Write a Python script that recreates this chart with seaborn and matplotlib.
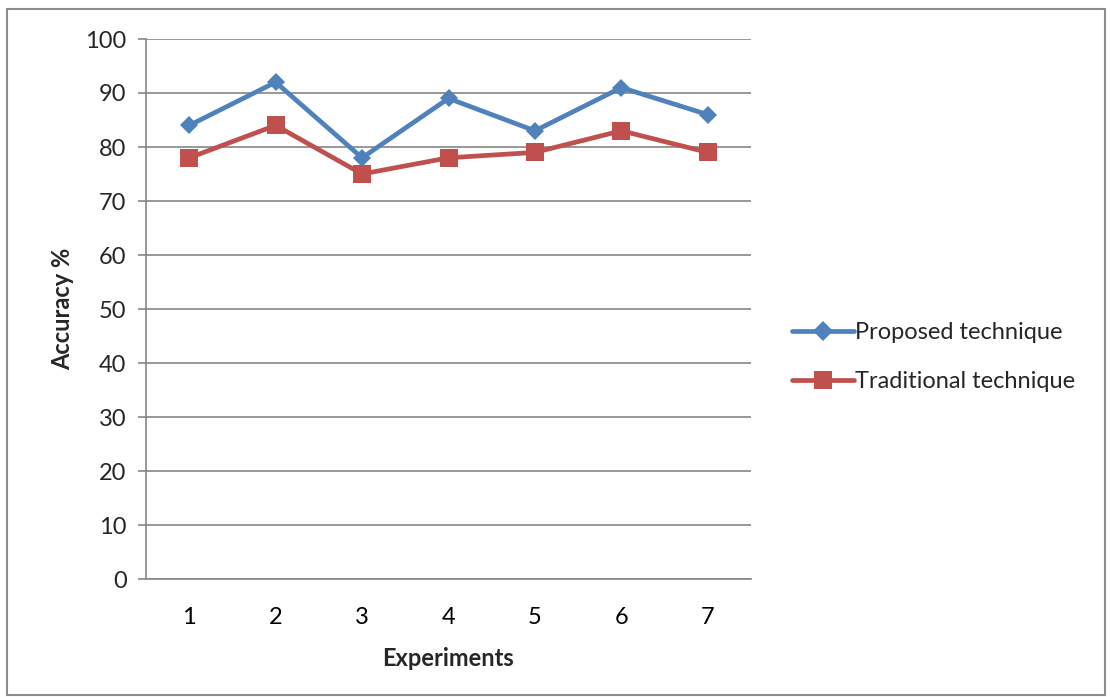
import matplotlib
matplotlib.use("Agg")
import matplotlib.pyplot as plt
import seaborn as sns
import pandas as pd
from matplotlib.patches import Rectangle
from matplotlib.lines import Line2D

experiments = [1, 2, 3, 4, 5, 6, 7]
proposed = [84, 92, 78, 89, 83, 91, 86]
traditional = [78, 84, 75, 78, 79, 83, 79]
series_names = ["Proposed technique", "Traditional technique"]
y_ticks = [0, 10, 20, 30, 40, 50, 60, 70, 80, 90, 100]

sns.set_theme(style="white")
plt.rcParams['font.family'] = ['Lato', 'DejaVu Sans']

df = pd.DataFrame({
    "Experiments": experiments * 2,
    "Accuracy": proposed + traditional,
    "Series": [series_names[0]] * len(proposed) + [series_names[1]] * len(traditional),
})

FS = 17

fig = plt.figure(figsize=(11.10, 6.97), dpi=100)
ax = fig.add_axes([146 / 1110, 1 - 579 / 697, 605 / 1110, 540 / 697])

grid_c = "#868686"
for yt in y_ticks:
    ax.axhline(yt, color=grid_c, lw=1.2, zorder=0)

sns.lineplot(data=df, x="Experiments", y="Accuracy", hue="Series", style="Series",
             palette={series_names[0]: "#4F81BD", series_names[1]: "#C0504D"},
             markers={series_names[0]: "D", series_names[1]: "s"},
             dashes=False, linewidth=3.4, ax=ax, legend=False, zorder=3)
lines = ax.get_lines()[-2:]
sizes = [9.5, 12.5]
for ln, ms in zip(lines, sizes):
    ln.set_markersize(ms)
    ln.set_markeredgewidth(0)

ax.set_xlim(0.5, 7.5)
ax.set_ylim(0, 100)
ax.set_yticks(y_ticks)
ax.set_xticks(experiments)
ax.set_xticks([i + 0.5 for i in range(0, 8)], minor=True)
ax.tick_params(axis="x", which="major", length=0, pad=20, labelsize=FS, colors="black")
ax.tick_params(axis="x", which="minor", length=6, width=1.2, color=grid_c, direction="out")
ax.tick_params(axis="y", which="major", length=6, width=1.2, color=grid_c, direction="out",
               labelsize=FS, pad=8, left=True)
for s in ["top", "right"]:
    ax.spines[s].set_visible(False)
for s in ["left", "bottom"]:
    ax.spines[s].set_color(grid_c)
    ax.spines[s].set_linewidth(1.2)

ax.set_xlabel("Experiments", fontsize=FS, fontweight="bold", labelpad=14)
ax.set_ylabel("Accuracy %", fontsize=FS, fontweight="bold", labelpad=8)

handles = [Line2D([], [], color="#4F81BD", lw=3.4, marker="D", markersize=10, markeredgewidth=0),
           Line2D([], [], color="#C0504D", lw=3.4, marker="s", markersize=13, markeredgewidth=0)]
fig.legend(handles, series_names, loc="center left", bbox_to_anchor=(771 / 1110, 1 - 357 / 697),
           frameon=False, fontsize=FS, handlelength=2.6, handletextpad=0.05, labelspacing=1.2)

fig.patches.append(Rectangle((7 / 1110, 2 / 697), 1098 / 1110, 686 / 697, transform=fig.transFigure,
                             fill=False, edgecolor="#8c8c8c", lw=1.5))

fig.savefig("out.png", dpi=100)
